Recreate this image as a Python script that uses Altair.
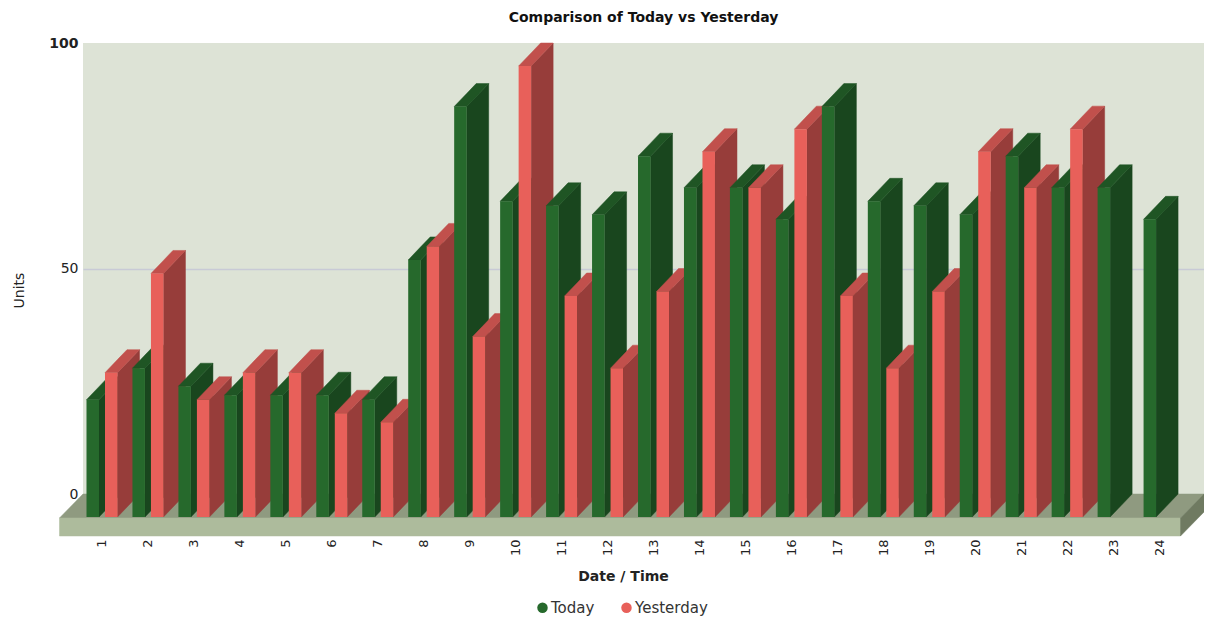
import altair as alt
import pandas as pd

# ---------------- data ----------------
hours = list(range(1, 25))
today = [26, 33, 29, 27, 27, 27, 26, 57, 91, 70, 69, 67, 80, 73, 73, 66, 91, 70, 69, 67, 80, 73, 73, 66]
yesterday_hours = list(range(1, 23))
yesterday = [32, 54, 26, 32, 32, 23, 21, 60, 40, 100, 49, 33, 50, 81, 73, 86, 49, 33, 50, 81, 73, 86]
series_names = ["Today", "Yesterday"]
y_ticks = [0, 50, 100]

# ---------------- styles / layout ----------------
front_colors = ["#26692c", "#e8605a"]
side_colors = ["#19461e", "#973d3a"]
top_colors = ["#1f5524", "#c1504c"]
floor_top_col, floor_front_col, floor_side_col = "#8f9a80", "#adbb9c", "#6f7a61"
plane_col = "#dde3d6"
FONT = "DejaVu Sans"

W, H = 1121, 451
PX_PER_HOUR = 45.96
X0 = 0.108
X1 = X0 + W / PX_PER_HOUR
PX_PER_UNIT = H / 100.0
DX = 22 / PX_PER_HOUR          # bar depth (x, in hour units)
DY = 23 / PX_PER_UNIT          # bar depth (y, in value units)
BW = 12.5 / PX_PER_HOUR        # bar width
OFFS = [-15.5 / PX_PER_HOUR, 3 / PX_PER_HOUR]
FDX = 23.5 / PX_PER_HOUR       # floor depth
FDY = 24 / PX_PER_UNIT
FT = 18 / PX_PER_UNIT          # floor thickness

# ---------------- geometry built from the data ----------------
bars = []
for g in hours:
    bars.append((g, 0, today[g - 1]))
    if g in yesterday_hours:
        bars.append((g, 1, yesterday[yesterday_hours.index(g)]))

front_rows, poly_rows = [], []
for k, (g, s, v) in enumerate(bars):
    fl = g - DX + OFFS[s]
    fr = fl + BW
    ytf, ytb = v - DY, v
    front_rows.append(dict(series=series_names[s], hour=g, value=v,
                           x=fl, x2=fr, y=ytf, y2=-DY))
    pid_side = f"b{k:03d}a"
    poly_rows += [
        dict(pid=pid_side, fill=side_colors[s], x=fr, y=ytf, y2=-DY),
        dict(pid=pid_side, fill=side_colors[s], x=fr + DX, y=ytb, y2=0),
    ]
    pid_top = f"b{k:03d}b"
    r = BW / DX
    poly_rows += [
        dict(pid=pid_top, fill=top_colors[s], x=fl, y=ytf, y2=ytf),
        dict(pid=pid_top, fill=top_colors[s], x=fr, y=ytf + r * DY, y2=ytf),
        dict(pid=pid_top, fill=top_colors[s], x=fl + DX, y=ytb, y2=ytf + (1 - r) * DY),
        dict(pid=pid_top, fill=top_colors[s], x=fr + DX, y=ytb, y2=ytb),
    ]

fl, bl, fr, br = X0 - FDX, X0, X1 - FDX, X1
floor_rows = [
    dict(pid="f1", fill=floor_top_col, x=fl, y=-FDY, y2=-FDY),
    dict(pid="f1", fill=floor_top_col, x=bl, y=0, y2=-FDY),
    dict(pid="f1", fill=floor_top_col, x=fr, y=0, y2=-FDY),
    dict(pid="f1", fill=floor_top_col, x=br, y=0, y2=0),
    dict(pid="f2", fill=floor_front_col, x=fl, y=-FDY, y2=-FDY - FT),
    dict(pid="f2", fill=floor_front_col, x=fr, y=-FDY, y2=-FDY - FT),
    dict(pid="f3", fill=floor_side_col, x=fr, y=-FDY, y2=-FDY - FT),
    dict(pid="f3", fill=floor_side_col, x=br, y=0, y2=-FT),
]

front_df = pd.DataFrame(front_rows)
poly_df = pd.DataFrame(poly_rows)
floor_df = pd.DataFrame(floor_rows)

# ---------------- scales / axes ----------------
xscale = alt.Scale(domain=[X0, X1], nice=False, zero=False)
yscale = alt.Scale(domain=[0, 100], nice=False, zero=False)

xaxis = alt.Axis(values=hours, format="d", labelAngle=270, labelAlign="right",
                 labelBaseline="middle", labelOffset=-22, labelPadding=3, offset=42,
                 ticks=False, domain=False, grid=False, labelFontSize=13,
                 labelColor="#222", title="Date / Time", titleFontSize=14,
                 titleFontWeight="bold", titleColor="#222", titleX=540,
                 titleY=40, titleBaseline="middle", titleAlign="center")
yaxis = alt.Axis(values=y_ticks, ticks=False, domain=False, labelPadding=5,
                 labelFontSize=14, labelColor="#222",
                 labelFontWeight=alt.expr("datum.value == 100 ? 'bold' : 'normal'"),
                 grid=True, gridColor="#c8cad6", gridWidth=1.5,
                 gridOpacity=alt.expr("datum.value == 50 ? 1 : 0"),
                 title="Units", titleFontSize=14, titleFontWeight="normal",
                 titleColor="#222", titleAngle=270, titleX=-64, titleY=247,
                 titleAlign="center", titleBaseline="middle")


def xenc(field="x"):
    return alt.X(f"{field}:Q", scale=xscale, axis=xaxis)


def yenc(field="y"):
    return alt.Y(f"{field}:Q", scale=yscale, axis=yaxis, stack=None)


floor = alt.Chart(floor_df).mark_area(strokeWidth=0.5).encode(
    x=xenc(), y=yenc(), y2="y2:Q", detail="pid:N",
    fill=alt.Fill("fill:N", scale=None), stroke=alt.Stroke("fill:N", scale=None),
)

sides = alt.Chart(poly_df).mark_area(strokeWidth=0.5).encode(
    x=xenc(), y=yenc(), y2="y2:Q", detail="pid:N",
    fill=alt.Fill("fill:N", scale=None), stroke=alt.Stroke("fill:N", scale=None),
)

fronts = alt.Chart(front_df).mark_rect().encode(
    x=xenc(), x2="x2:Q", y=yenc(), y2="y2:Q",
    color=alt.Color("series:N",
                    scale=alt.Scale(domain=series_names, range=front_colors),
                    legend=alt.Legend(title=None, orient="none", legendX=452,
                                      legendY=557, direction="horizontal",
                                      symbolType="circle", symbolSize=110,
                                      symbolStrokeWidth=0, labelFontSize=15,
                                      labelColor="#333", labelOffset=1,
                                      columnPadding=24)),
)

chart = alt.layer(floor, sides, fronts).properties(
    width=W, height=H,
    title=alt.TitleParams("Comparison of Today vs Yesterday", fontSize=14,
                          fontWeight="bold", color="#111", anchor="middle",
                          baseline="bottom", offset=-3),
    autosize=alt.AutoSizeParams(type="none"),
    padding={"left": 75, "top": 35, "right": 0, "bottom": 123},
).configure(font=FONT).configure_view(fill=plane_col, stroke=None)

chart.save("out.html", embed_options={"renderer": "svg", "actions": False})
